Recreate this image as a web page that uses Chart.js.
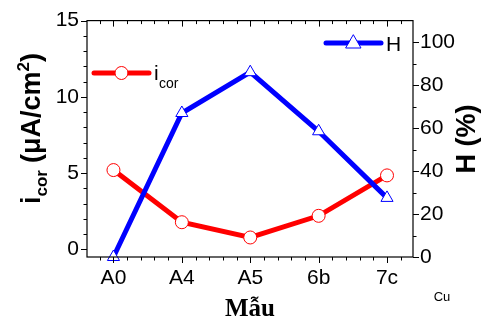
<!DOCTYPE html>
<html>
<head>
<meta charset="utf-8">
<script src="https://cdn.jsdelivr.net/npm/chart.js@4"></script>
<style>
  html, body { margin: 0; padding: 0; background: white; }
  #wrap { width: 486px; height: 324px; }
</style>
</head>
<body>
<div id="wrap"><canvas id="myChart" width="486" height="324"></canvas></div>
<script>
const categories = ["A0", "A4", "A5", "6b", "7c"]
const icorValues = [5.2, 1.78, 0.78, 2.2, 4.85]
const hValues = [0, 67, 86, 58.5, 27.5]
const leftTicks = [0, 5, 10, 15]
const rightTicks = [0, 20, 40, 60, 80, 100]

const RED = "rgb(255,0,0)"
const BLUE = "rgb(0,0,255)"
const FONT = "'Liberation Sans', Arial, sans-serif"

// frame, minor ticks, titles and legend
const decor = {
    id: "decor",
    afterDraw(chart) {
        const ctx = chart.ctx
        const a = chart.chartArea
        const x = chart.scales.x, y = chart.scales.y, y1 = chart.scales.y1
        ctx.save()
        ctx.strokeStyle = "#000"
        ctx.lineWidth = 1.2
        ctx.strokeRect(a.left, a.top, a.right - a.left, a.bottom - a.top)

        const tick = (x0, y0, x1, y1_) => {
            ctx.beginPath(); ctx.moveTo(x0, y0); ctx.lineTo(x1, y1_); ctx.stroke()
        }
        ctx.lineWidth = 1
        // x ticks: bottom outward, top inward
        for (let v = -0.2; v <= 4.3; v += 0.2) {
            const px = Math.round(x.getPixelForValue(v)) + 0.5
            const major = Math.abs(v - Math.round(v)) < 0.01
            const len = major ? 6 : 3.5
            tick(px, a.bottom, px, a.bottom + len)
            tick(px, a.top, px, a.top + len)
        }
        // left ticks
        for (let v = 0; v <= 15; v++) {
            const py = Math.round(y.getPixelForValue(v)) + 0.5
            const len = v % 5 === 0 ? 6 : 3.5
            tick(a.left - len, py, a.left, py)
        }
        // right ticks
        for (let v = 0; v <= 100; v += 10) {
            const py = Math.round(y1.getPixelForValue(v)) + 0.5
            const len = v % 20 === 0 ? 6 : 3.5
            tick(a.right, py, a.right + len, py)
        }

        // left title
        ctx.fillStyle = "#000"
        ctx.save()
        ctx.translate(40, 204)
        ctx.rotate(-Math.PI / 2)
        ctx.textBaseline = "alphabetic"
        ctx.textAlign = "left"
        ctx.font = "bold 27px " + FONT
        ctx.fillText("i", 0, 0)
        let w = ctx.measureText("i").width
        ctx.font = "bold 17px " + FONT
        ctx.fillText("cor", w, 7)
        w += ctx.measureText("cor").width + 7
        ctx.font = "bold 27px " + FONT
        ctx.fillText("(\u03BCA/cm", w, 0)
        w += ctx.measureText("(\u03BCA/cm").width
        ctx.font = "bold 17px " + FONT
        ctx.fillText("2", w, -11)
        w += ctx.measureText("2").width
        ctx.font = "bold 27px " + FONT
        ctx.fillText(")", w, 0)
        ctx.restore()

        // right title
        ctx.save()
        ctx.translate(475, 139)
        ctx.rotate(-Math.PI / 2)
        ctx.textAlign = "center"
        ctx.textBaseline = "alphabetic"
        ctx.font = "bold 27px " + FONT
        ctx.fillText("H (%)", 0, 0)
        ctx.restore()

        // x title
        ctx.textAlign = "center"
        ctx.textBaseline = "alphabetic"
        ctx.font = "bold 25px 'Liberation Serif', 'Times New Roman', serif"
        ctx.fillText("M\u1EABu", 250, 316)
        ctx.font = "13px " + FONT
        ctx.fillText("Cu", 442, 301)

        // legends
        const legendItem = (x0, x1, yy, color, style) => {
            ctx.strokeStyle = color
            ctx.lineWidth = 5
            ctx.lineCap = "round"
            tick(x0, yy, x1, yy)
            const cx = (x0 + x1) / 2
            ctx.lineWidth = 1
            ctx.fillStyle = "#fff"
            ctx.beginPath()
            if (style === "circle") {
                ctx.arc(cx, yy, 6.5, 0, Math.PI * 2)
            } else {
                ctx.moveTo(cx, yy - 8)
                ctx.lineTo(cx + 7.5, yy + 5)
                ctx.lineTo(cx - 7.5, yy + 5)
                ctx.closePath()
            }
            ctx.fill(); ctx.stroke()
        }
        legendItem(94, 149, 73, RED, "circle")
        legendItem(326, 381, 43, BLUE, "triangle")
        ctx.fillStyle = "#000"
        ctx.textAlign = "left"
        ctx.font = "21px " + FONT
        ctx.fillText("i", 154, 80)
        ctx.font = "14px " + FONT
        ctx.fillText("cor", 159, 88)
        ctx.font = "21px " + FONT
        ctx.fillText("H", 386, 51)
        ctx.restore()
    }
}

const datasets = [{
    label: "H",
    data: hValues.map((v, i) => ({x: i, y: v})),
    yAxisID: "y1",
    borderColor: BLUE,
    borderWidth: 5,
    pointStyle: "triangle",
    pointRadius: 7,
    pointBorderWidth: 1,
    pointBackgroundColor: "#fff",
    pointBorderColor: BLUE,
    order: 0,
    clip: false
}, {
    label: "icor",
    data: icorValues.map((v, i) => ({x: i, y: v})),
    yAxisID: "y",
    borderColor: RED,
    borderWidth: 5,
    pointStyle: "circle",
    pointRadius: 6.5,
    pointBorderWidth: 1,
    pointBackgroundColor: "#fff",
    pointBorderColor: RED,
    order: 1,
    clip: false
}]

const tickFont = {family: FONT, size: 21}

const config = {
    type: "line",
    data: {datasets},
    options: {
        responsive: false,
        animation: false,
        layout: {padding: {top: 16, left: 0, right: 0, bottom: 0}},
        plugins: {legend: {display: false}, tooltip: {enabled: false}},
        scales: {
            x: {
                type: "linear",
                position: "bottom",
                min: -0.387,
                max: 4.38,
                grid: {display: false, drawTicks: false},
                border: {display: false},
                afterBuildTicks: (s) => { s.ticks = categories.map((c, i) => ({value: i})) },
                afterFit: (s) => { s.height = 67 },
                ticks: {
                    autoSkip: false,
                    maxRotation: 0,
                    padding: 9,
                    color: "#000",
                    font: tickFont,
                    callback: (v) => categories[v]
                }
            },
            y: {
                position: "left",
                min: -0.5,
                max: 15,
                grid: {display: false, drawTicks: false},
                border: {display: false},
                afterBuildTicks: (s) => { s.ticks = leftTicks.map((v) => ({value: v})) },
                afterFit: (s) => { s.width = 87 },
                ticks: {padding: 8, color: "#000", font: tickFont}
            },
            y1: {
                position: "right",
                min: 0,
                max: 110,
                grid: {display: false, drawTicks: false},
                border: {display: false},
                afterBuildTicks: (s) => { s.ticks = rightTicks.map((v) => ({value: v})) },
                afterFit: (s) => { s.width = 73 },
                ticks: {padding: 7, color: "#000", font: tickFont}
            }
        }
    },
    plugins: [decor]
}

const chart = document.getElementById("myChart")
chart.style.backgroundColor = "white"
const myChart = new Chart(chart, config)
</script>
</body>
</html>
